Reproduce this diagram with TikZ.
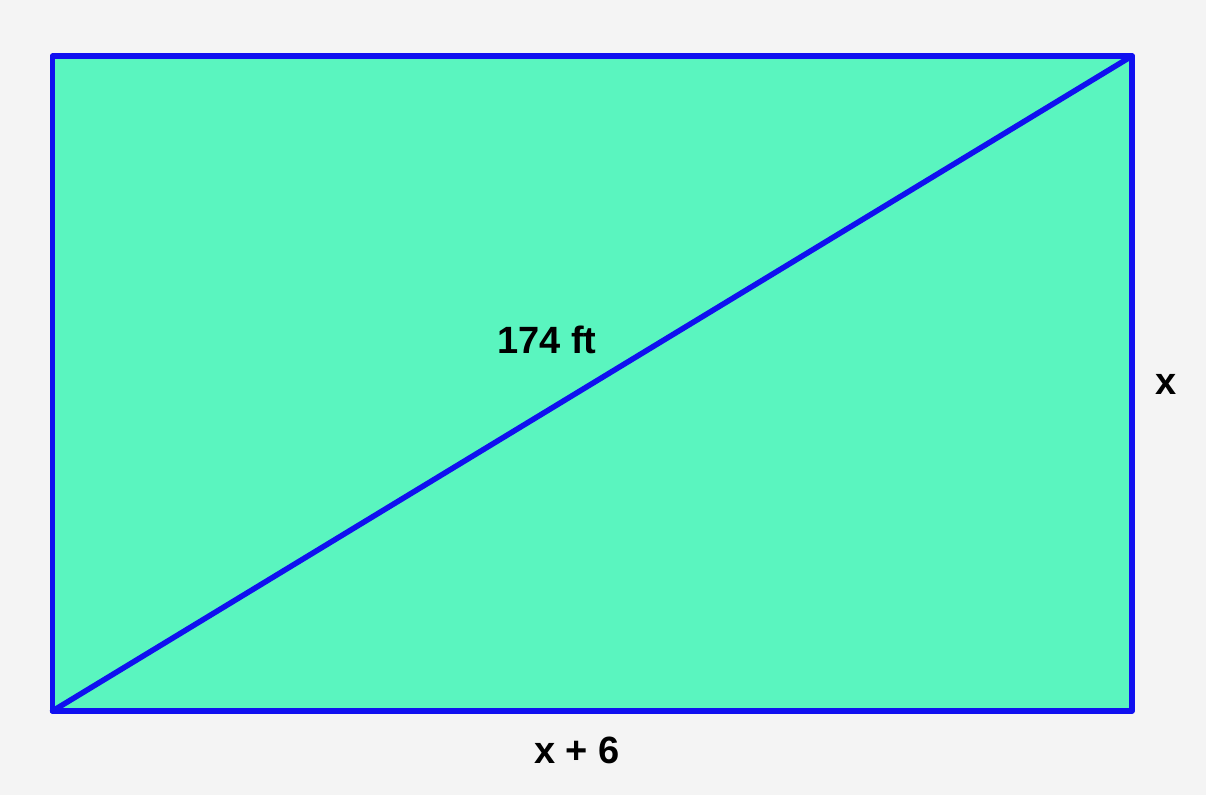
\documentclass[tikz,border=0pt]{standalone}
\usepackage{fontspec}
\setmainfont{Liberation Sans}
\definecolor{bg}{HTML}{F4F4F4}
\definecolor{fillg}{HTML}{5AF5BF}
\definecolor{edge}{HTML}{1010F0}
\begin{document}
\begin{tikzpicture}[x=1pt,y=-1pt,
  lbl/.style={font=\fontsize{38}{44}\selectfont\bfseries, text=black, inner sep=0pt}]
\fill[bg] (0,0) rectangle (1206,795);
\useasboundingbox (0,0) rectangle (1206,795);
\coordinate (tl) at (52.5,56);
\coordinate (tr) at (1132,56);
\coordinate (br) at (1132,711);
\coordinate (bl) at (52.5,711);
\fill[fillg] (tl) rectangle (br);
\draw[edge, line width=5.5pt, line join=round] (tl) -- (tr) -- (br) -- (bl) -- cycle;
\draw[edge, line width=5.5pt, line cap=round] (bl) -- (tr);
\node[lbl] (d) at (547,340) {174 ft};
\node[lbl] (h) at (1166,384) {x};
\node[lbl] (w) at (577,750) {x + 6};
\end{tikzpicture}
\end{document}
